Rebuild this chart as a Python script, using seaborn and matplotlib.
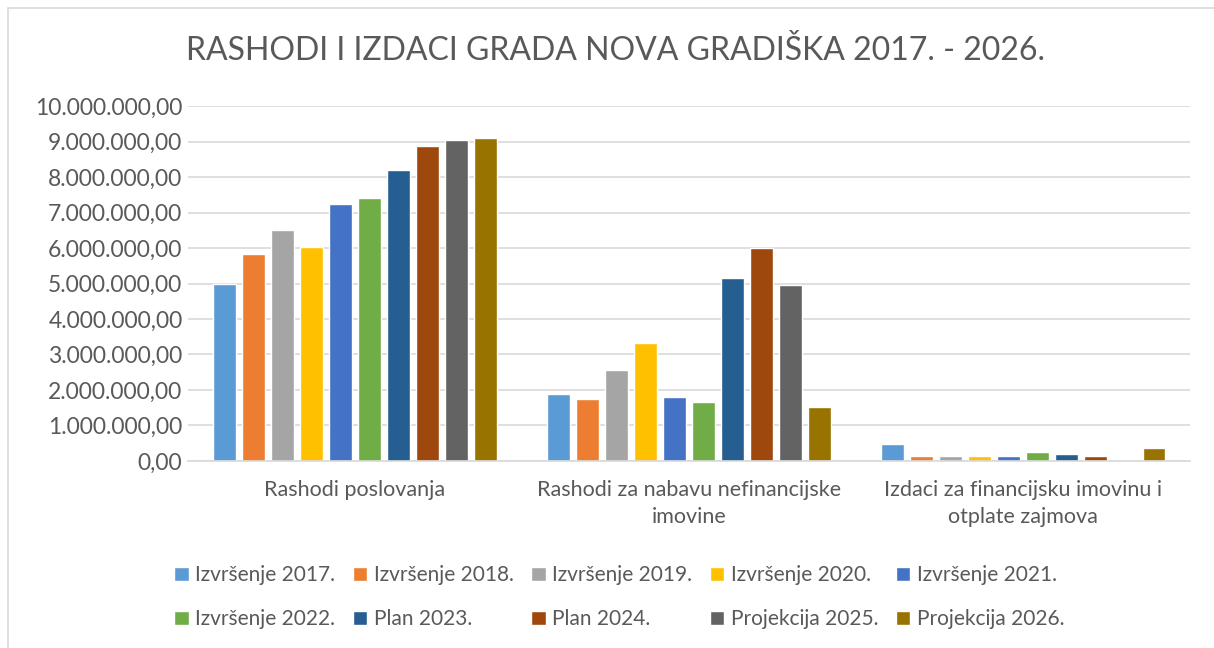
import matplotlib
matplotlib.use("Agg")
import matplotlib.pyplot as plt
from matplotlib.patches import Rectangle
from matplotlib.ticker import FuncFormatter
import pandas as pd
import seaborn as sns

# Data
categories = [
    "Rashodi poslovanja",
    "Rashodi za nabavu nefinancijske\nimovine",
    "Izdaci za financijsku imovinu i\notplate zajmova",
]
series = [
    "Izvršenje 2017.", "Izvršenje 2018.", "Izvršenje 2019.", "Izvršenje 2020.",
    "Izvršenje 2021.", "Izvršenje 2022.", "Plan 2023.", "Plan 2024.",
    "Projekcija 2025.", "Projekcija 2026.",
]
rashodi_poslovanja = [5000000, 5830000, 6500000, 6030000, 7240000,
                      7420000, 8190000, 8880000, 9050000, 9110000]
nefinancijska_imovina = [1880000, 1740000, 2560000, 3320000, 1790000,
                         1670000, 5160000, 6000000, 4950000, 1510000]
financijska_imovina = [490000, 150000, 150000, 150000, 150000,
                       250000, 200000, 130000, 0, 360000]
colors = ["#5B9BD5", "#ED7D31", "#A5A5A5", "#FFC000", "#4472C4",
          "#70AD47", "#255E91", "#9E480E", "#636363", "#997300"]

rows = []
for cat, vals in zip(categories, [rashodi_poslovanja, nefinancijska_imovina, financijska_imovina]):
    for s, v in zip(series, vals):
        rows.append({"kategorija": cat, "serija": s, "iznos": v})
df = pd.DataFrame(rows)

sns.set_style("white")
plt.rcParams["font.family"] = ["Lato", "DejaVu Sans"]
text_color = "#595959"

fig = plt.figure(figsize=(12.14, 6.48), dpi=100)
ax = fig.add_axes([0.1549, 0.2886, 0.8254, 0.5478])

sns.barplot(data=df, x="kategorija", y="iznos", hue="serija", order=categories,
            hue_order=series, palette=colors, width=0.87, gap=0.22,
            saturation=1, ax=ax, legend=True)

ax.set_ylim(0, 10000000)
ax.set_yticks(range(0, 10000001, 1000000))

def fmt(v, pos):
    s = f"{v:,.2f}"
    return s.replace(",", "X").replace(".", ",").replace("X", ".")

ax.yaxis.set_major_formatter(FuncFormatter(fmt))
ax.grid(axis="y", color="#D9D9D9", linewidth=1.2)
ax.set_axisbelow(True)
for side in ["top", "right", "left"]:
    ax.spines[side].set_visible(False)
ax.spines["bottom"].set_color("#D9D9D9")
ax.spines["bottom"].set_linewidth(1.2)
ax.tick_params(axis="y", length=0, labelsize=16.5, colors=text_color, pad=4)
ax.tick_params(axis="x", length=0, labelsize=15.5, colors=text_color, pad=14)
for lbl in ax.get_xticklabels():
    lbl.set_linespacing(1.4)
ax.set_xlabel("")
ax.set_ylabel("")

# legend in Excel order: row by row
handles, labels = ax.get_legend_handles_labels()
ax.get_legend().remove()
ncol = 5
nrow = 2
order = [r * ncol + c for c in range(ncol) for r in range(nrow)]
fig.legend([handles[i] for i in order], [labels[i] for i in order], ncol=ncol,
           loc="center", bbox_to_anchor=(0.510, 0.078),
           frameon=False, fontsize=15, handlelength=0.7, handleheight=0.7,
           handletextpad=0.3, columnspacing=0.85, labelspacing=1.15,
           labelcolor=text_color)

fig.text(0.507, 0.922, "RASHODI I IZDACI GRADA NOVA GRADIŠKA 2017. - 2026.",
         ha="center", va="center", fontsize=23, color=text_color)

fig.patches.append(Rectangle((0.007, -0.01), 1.0, 0.997, transform=fig.transFigure,
                             fill=False, edgecolor="#D9D9D9", linewidth=1.2))

fig.savefig("out.png", dpi=100)
